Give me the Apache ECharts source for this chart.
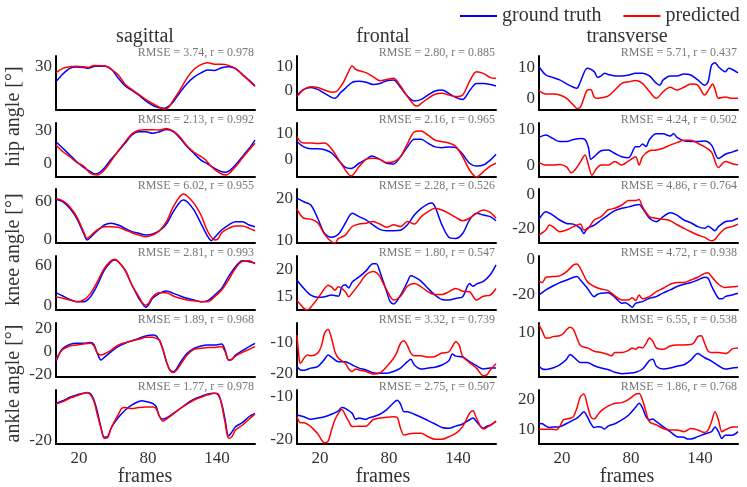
<!DOCTYPE html>
<html>
<head>
<meta charset="utf-8">
<script src="https://cdn.jsdelivr.net/npm/echarts@6/dist/echarts.min.js"></script>
<style>
  html, body { margin: 0; padding: 0; background: #fff; }
  #chart { width: 747px; height: 487px; }
</style>
</head>
<body>
<div id="chart"></div>
<script>
// ---- data (frame, angle in degrees) ----
const planes = ['sagittal', 'frontal', 'transverse']
const joints = ['hip angle [°]', 'knee angle [°]', 'ankle angle [°]']
const frameTicks = [20, 80, 140]
const frameRange = [0, 173]

const rmse = [
  [3.74, 2.80, 5.71],
  [2.13, 2.16, 4.24],
  [6.02, 2.28, 4.86],
  [2.81, 1.80, 4.72],
  [1.89, 3.32, 6.55],
  [1.77, 2.75, 1.86]
]
const corr = [
  [0.978, 0.885, 0.437],
  [0.992, 0.965, 0.502],
  [0.955, 0.526, 0.764],
  [0.993, 0.547, 0.938],
  [0.968, 0.739, 0.538],
  [0.978, 0.507, 0.768]
]
const yTicks = [
  [[30], [0, 10], [0, 10]],
  [[0, 30], [0, 10], [0, 10]],
  [[0, 60], [10, 20], [-20, 0]],
  [[0, 60], [15, 20], [-20, 0]],
  [[-20, 0, 20], [-20, -10], [10]],
  [[-20], [-20, -10], [10, 20]]
]
const yRanges = [
  [[2, 36.5], [-8.5, 14.5], [-3.8, 13.8]],
  [[-12.7, 36.4], [-6.8, 14], [-3.4, 12]],
  [[-4.7, 80], [9.3, 22.4], [-28.6, 3.1]],
  [[-6, 75], [12.6, 22.4], [-29.2, 2.3]],
  [[-21.7, 24.6], [-21.2, -3.6], [0.5, 12]],
  [[-21.5, -0.5], [-21.1, -8.4], [5, 23.4]]
]

// hip, trial 1
const hipSag1Truth = [[0,20.1],[6,25],[12,28.6],[18,29.5],[24,29.2],[28,28.6],[34,30],[43,30],[48,28.2],[54,22.5],[60,17.5],[66,14.5],[72,11.5],[78,7.8],[84,5],[90,3.4],[94,3.1],[98,4.5],[102,7.3],[108,13.5],[114,19],[120,23],[126,25.7],[132,27.5],[138,27.3],[144,29],[150,29.7],[156,28.5],[162,24.8],[168,21],[173,17.5]]
const hipSag1Pred = [[0,25.8],[6,28.6],[12,29.7],[18,30],[24,29.6],[28,29.2],[33,30.5],[42,30.2],[48,28],[54,24.5],[60,18.5],[66,15],[72,12],[78,8.8],[84,6],[90,3.8],[94,2.5],[98,3.7],[102,8.3],[108,15],[114,22.5],[120,28],[126,31],[132,32.2],[138,31.2],[144,31.2],[150,30.5],[156,28.5],[162,24.6],[168,20.5],[173,17]]
const hipFro1Truth = [[0,-2.1],[6,0.3],[12,1.1],[18,0.3],[24,-1.4],[30,-3.1],[33,-3.5],[38,-1],[42,0.7],[48,3.3],[54,3.7],[60,3.3],[66,2.4],[72,2.8],[78,4],[84,4.3],[90,1.1],[96,-2.6],[102,-4.7],[108,-4],[114,-2.1],[120,-0.4],[126,0],[132,-1.4],[138,-3.1],[144,-4],[150,-0.3],[156,2.8],[162,2.8],[168,2.4],[173,1.7]]
const hipFro1Pred = [[0,-2.8],[6,0.3],[12,1.4],[18,1.1],[24,0],[30,-0.9],[34,-0.7],[40,3],[44,7],[48,10.2],[51,8.8],[54,8.2],[60,7.4],[66,5.7],[72,4],[78,4.5],[84,5],[90,1.7],[96,-2.8],[102,-6.4],[105,-6.8],[108,-5.7],[114,-3.5],[120,-1.8],[126,-1.4],[132,-2.1],[138,-2.8],[144,-2.1],[150,3.7],[156,7.8],[162,7.1],[168,5.3],[173,5]]
const hipTra1Truth = [[0,10.3],[6,7.6],[12,6.8],[18,6],[24,4.7],[30,3.6],[33,3.3],[36,5.4],[42,9.8],[48,8.7],[51,6.8],[54,7.3],[57,8.2],[60,7.8],[66,7.3],[72,7.3],[78,7.6],[84,8.2],[90,8.2],[96,7.3],[102,4.9],[105,4.3],[108,6],[114,7.3],[120,7.3],[126,7.9],[132,7.6],[138,6],[144,4.3],[147,5.4],[150,10.8],[153,11.6],[156,10.3],[162,8.7],[165,9.8],[168,9.4],[173,8.3]]
const hipTra1Pred = [[0,2.5],[6,1.4],[12,1.4],[18,1.1],[24,0],[30,-2.2],[33,-3.3],[36,-2.9],[42,2.7],[45,2.9],[48,0.4],[51,0],[54,0.2],[60,0.7],[66,2.7],[72,4.9],[78,5.4],[84,5.8],[90,4.9],[96,2.2],[102,0],[108,2.2],[114,3.6],[120,2.7],[126,3.6],[132,4.7],[138,4.3],[144,1.1],[147,2.5],[151,4.7],[153,3],[156,0],[162,0.4],[168,0],[173,0]]

// hip, trial 2
const hipSag2Truth = [[0,19.4],[6,13.4],[12,7.3],[18,1.2],[24,-3.9],[30,-7.9],[34,-10],[38,-8.5],[42,-4.5],[48,3.5],[54,10.5],[60,17.9],[66,25.5],[72,28.5],[78,28.5],[84,27],[90,28.5],[96,30.6],[102,28.5],[108,22.4],[114,14.8],[120,8.8],[126,2.7],[132,-0.9],[138,-4.8],[144,-7.9],[148,-8.3],[152,-6],[156,-1.8],[162,5.7],[168,13.4],[173,20.9]]
const hipSag2Pred = [[0,16.4],[6,10.3],[12,5.7],[18,0.6],[24,-2.7],[30,-9.4],[36,-10.9],[42,-6.4],[48,2],[54,11],[60,19],[66,26.5],[72,29.8],[78,30.3],[84,30.3],[90,30],[96,31.5],[102,29],[108,23.5],[114,15.5],[120,9.8],[126,6],[130,3],[134,-2],[138,-6],[144,-10],[148,-10.8],[152,-8],[156,-3.5],[162,4.5],[168,12],[173,18]]
const hipFro2Truth = [[0,6.8],[6,4.8],[12,4.1],[18,4.1],[24,3.7],[30,2.5],[36,-0.3],[42,-3.1],[47,-3.5],[54,-1.5],[60,0],[65,1.3],[72,0],[78,-1.5],[84,-1.8],[90,1],[96,4.8],[102,7.7],[108,7.7],[114,6.2],[120,4.8],[126,4.5],[132,4.8],[138,4.5],[144,2],[150,-1.5],[156,-2.6],[162,-2.2],[168,-0.3],[173,2]]
const hipFro2Pred = [[0,8.7],[3,6.8],[6,6.3],[12,6.3],[18,6.1],[24,6.3],[30,4.1],[36,0],[42,-4.1],[47,-6.4],[54,-2.8],[60,0],[66,0.4],[72,0],[78,-1.2],[84,-0.9],[90,1],[96,6],[102,10.6],[108,10.9],[114,9.3],[120,7.4],[126,6.8],[132,6.3],[138,5],[144,1],[150,-4.1],[156,-6.8],[162,-4.8],[168,-2.6],[173,-1.5]]
const hipTra2Truth = [[0,7.9],[6,8.6],[12,7.6],[18,6.7],[24,6.7],[30,7.3],[36,7.6],[40,7.3],[43,5],[45,1.6],[48,2.4],[54,4.1],[60,4.3],[66,3.3],[72,2.4],[78,2.1],[84,5.2],[87,5.2],[90,6],[93,5.3],[96,7.3],[102,8.9],[108,8.9],[114,8.3],[117,8.9],[120,7.9],[126,6.9],[132,6.7],[138,6.7],[144,6.9],[150,5.7],[156,1.9],[162,3.1],[168,3.7],[173,4.3]]
const hipTra2Pred = [[0,0.7],[6,0],[12,0],[18,0.2],[24,-0.5],[28,-2.2],[31,-1.5],[36,0.9],[40,2.9],[43,0],[46,-2.9],[50,-1],[54,0],[60,0],[66,1],[72,0],[78,1.2],[84,2.4],[87,0],[90,2.4],[96,4.1],[102,4.3],[108,4.8],[114,5.7],[120,6.4],[126,7.1],[132,7.1],[138,6.2],[144,5.2],[150,3.7],[156,-0.7],[162,1],[168,0.4],[173,0]]

// knee, trial 1
const kneeSag1Truth = [[0,63.8],[6,60],[12,49.7],[18,34],[24,10.5],[27,0],[30,4.2],[36,14.6],[42,23.5],[48,26.1],[54,23.5],[60,18.3],[66,13.1],[72,10.5],[78,7.8],[84,9.4],[90,14.6],[96,25],[102,44.4],[108,60],[111,62.7],[114,60],[120,47],[126,26.1],[132,5.2],[135,-1],[138,4.2],[144,15.7],[150,23.5],[156,28.7],[162,28.7],[168,23.5],[173,20.9]]
const kneeSag1Pred = [[0,65.3],[6,61.5],[12,52.2],[18,36.5],[24,13.1],[27,2.6],[30,6.3],[33,11.5],[36,16],[42,20.9],[48,20.9],[54,19.9],[60,15.7],[66,11.5],[72,7.8],[78,5.2],[84,7.8],[90,14.6],[96,28.7],[102,52.2],[108,69],[111,72.1],[114,69],[120,57.5],[126,39.2],[132,13.1],[138,0],[141,2],[144,11.5],[150,18.3],[156,22],[162,22],[168,18.3],[173,14.6]]
const kneeFro1Truth = [[0,20.2],[6,19.3],[12,18.5],[18,15.3],[24,11.6],[30,10.7],[36,11.4],[42,14.1],[48,16.5],[54,15.7],[60,14.9],[66,13.7],[72,12.6],[78,12.3],[84,12.3],[90,12.4],[96,13.7],[102,16.1],[108,17.7],[114,18.8],[117,19],[120,18.1],[126,13.7],[132,10.7],[138,10.4],[144,11.6],[150,14.9],[156,16.5],[162,16.1],[168,15.7],[173,14.7]]
const kneeFro1Pred = [[0,17.5],[3,16.1],[6,15.3],[12,15.1],[18,14.2],[24,11.4],[30,9.6],[33,9.3],[36,10.4],[42,11.2],[48,13.3],[54,13.9],[60,14.1],[66,14.5],[72,13.9],[78,13.1],[84,13.7],[90,13.3],[96,14.5],[102,13.9],[108,15.7],[114,16.9],[120,17.7],[126,17.3],[132,16.5],[138,15.5],[144,14.7],[150,15.3],[156,16.5],[162,17.3],[168,16.7],[173,15.3]]
const kneeTra1Truth = [[0,-14.7],[6,-10.2],[12,-12.2],[18,-15.1],[24,-17.1],[30,-17.5],[36,-20],[39,-23],[42,-20],[48,-18.1],[54,-15.1],[60,-12.2],[66,-9.6],[72,-8.2],[78,-7.4],[84,-6.3],[87,-6],[90,-8.2],[96,-14.1],[102,-16.1],[108,-13.1],[114,-10.8],[120,-12.2],[126,-15.1],[132,-16.7],[138,-19],[144,-20],[147,-18.8],[150,-20],[153,-21.4],[156,-19],[162,-16.1],[168,-15.5],[173,-14.1]]
const kneeTra1Pred = [[0,-23.9],[6,-21],[9,-18.1],[12,-19],[18,-22],[24,-21],[30,-19],[36,-17.5],[39,-21],[42,-20.6],[48,-15.1],[54,-13.1],[60,-9.2],[66,-8.2],[72,-6.3],[78,-3.7],[84,-3.7],[87,-3],[90,-7.4],[96,-13.1],[102,-14.1],[108,-14.7],[114,-15.5],[120,-17.9],[126,-20],[132,-22],[138,-23.9],[144,-25.3],[150,-27.3],[153,-26.5],[156,-23.9],[162,-20],[168,-19],[173,-17.5]]

// knee, trial 2
const kneeSag2Truth = [[0,20],[6,15],[12,10],[18,6.5],[24,6.5],[30,14],[36,31.5],[42,54],[48,66.5],[51,69],[54,66.5],[60,54],[66,31.5],[72,11.5],[75,4],[78,-2],[81,3],[84,11.5],[90,19],[96,22.5],[102,19],[108,15],[114,11.5],[120,9],[126,6.5],[132,8],[138,16.5],[144,26.5],[150,44],[156,59],[162,68],[168,66.5],[173,64]]
const kneeSag2Pred = [[0,14],[6,11.5],[12,9],[18,6.5],[24,9],[30,19],[36,36.5],[42,56.5],[48,68],[51,70],[54,67],[60,54],[66,31.5],[72,14],[75,5],[78,1],[81,5],[84,14],[90,20],[96,20],[102,15],[108,11.5],[114,9],[120,8],[126,6.5],[132,6.5],[138,14],[144,24],[150,39],[156,56.5],[162,67],[168,68],[173,63]]
const kneeFro2Truth = [[0,18],[6,16.5],[12,15.3],[18,14.9],[24,15],[30,15.3],[36,15.1],[39,16.8],[42,17.2],[45,16.6],[48,17.7],[54,18.6],[60,19.7],[66,21],[69,21],[72,19.6],[78,15.9],[81,14.1],[84,13.7],[90,15.3],[96,17.7],[99,18.8],[102,18.6],[108,17.8],[114,16.5],[120,15.3],[126,14.5],[132,14.4],[138,14.7],[144,15],[150,17.4],[153,16.9],[156,17.3],[162,17.8],[168,19],[173,20.8]]
const kneeFro2Pred = [[0,14.3],[3,13.6],[6,12.9],[9,12.6],[12,13.1],[18,14.7],[24,16.5],[27,17.1],[30,16.8],[33,16.2],[36,16.8],[42,15.9],[45,15],[48,15.7],[54,17.3],[60,19],[66,19.6],[69,19.4],[72,18.7],[78,16.2],[84,14.4],[90,15.1],[96,16.9],[102,17.4],[108,16.8],[114,15.9],[120,15.4],[126,15.4],[132,15.9],[138,16.5],[144,16],[150,15.9],[156,14.4],[162,15.1],[168,15.3],[173,16.5]]
const kneeTra2Truth = [[0,-20.4],[6,-17.5],[12,-15.2],[18,-13.2],[24,-11.7],[30,-10.1],[33,-9.7],[36,-11.7],[42,-16.5],[48,-21.4],[51,-20],[54,-19.4],[60,-19.2],[66,-21.8],[72,-25.3],[75,-24.9],[78,-26],[81,-27.6],[84,-25.3],[90,-24.3],[96,-22.3],[102,-21.4],[108,-19.2],[114,-17.5],[120,-15.5],[126,-14.2],[132,-13.2],[138,-11.7],[144,-10.1],[147,-10.7],[150,-15.2],[156,-22.3],[159,-22.7],[162,-21.4],[168,-20.4],[173,-19.4]]
const kneeTra2Pred = [[0,-12.6],[3,-13.2],[6,-10.1],[12,-9.7],[18,-9.3],[24,-6.8],[30,-2.9],[33,-2.3],[36,-4.9],[42,-12.6],[48,-15.5],[54,-17],[60,-17.9],[66,-21],[72,-23.3],[78,-23.3],[81,-22],[84,-23.7],[87,-20.4],[90,-22.7],[96,-21.4],[102,-18.5],[108,-16.5],[114,-14.2],[120,-13.2],[126,-13.2],[132,-11.7],[138,-10.1],[144,-7.8],[147,-7.4],[150,-9.7],[156,-14.2],[162,-16.1],[168,-15.7],[173,-15.3]]

// ankle, trial 1
const ankleSag1Truth = [[0,-8.6],[3,-1.4],[6,2.9],[12,6.3],[18,7.2],[24,7.2],[30,7.8],[33,6],[36,-1.4],[39,-7.1],[42,-4.9],[48,0],[54,4.3],[60,7.2],[66,9.4],[72,11.4],[78,13.5],[84,14.3],[87,13.5],[90,9.4],[93,1.4],[96,-8.6],[99,-15.7],[102,-17.1],[105,-14.3],[108,-9.4],[114,-1.4],[120,2.9],[126,4.9],[132,5.7],[138,5.7],[144,6.6],[147,1.4],[150,-7.1],[153,-6.5],[156,-2.9],[162,0.9],[168,4.3],[173,7.2]]
const ankleSag1Pred = [[0,-7.1],[3,-1.4],[6,2],[12,4.9],[18,5.7],[24,6.6],[30,7.2],[33,4.9],[36,-1.4],[39,-2.9],[42,-2],[48,1.4],[54,5.7],[60,7.8],[66,9.4],[72,10.6],[78,12.3],[84,12.3],[87,11.4],[90,10],[93,2],[96,-8.6],[99,-15.7],[102,-17.9],[105,-15.7],[108,-11.4],[114,-2.9],[120,2],[126,2.9],[132,3.7],[138,3.7],[144,4.3],[147,0],[150,-7.1],[153,-6.5],[156,-3.7],[162,-0.6],[168,2],[173,4.3]]
const ankleFro1Truth = [[0,-17.8],[3,-18.9],[6,-19],[12,-18.3],[18,-17.8],[24,-15.4],[27,-14],[30,-14.7],[36,-16.2],[42,-16.2],[48,-17.3],[54,-18.3],[60,-18.9],[66,-19.8],[72,-20],[78,-20],[84,-19.4],[90,-18.3],[96,-16.2],[99,-15.4],[102,-17.3],[108,-18.6],[114,-18.3],[120,-18],[126,-17.3],[132,-15.9],[135,-13.7],[138,-14.4],[144,-14.7],[150,-16.2],[156,-17.5],[162,-18.6],[168,-18.3],[173,-18.3]]
const ankleFro1Pred = [[0,-7.5],[2,-15.7],[3,-16.7],[6,-15.1],[9,-14],[12,-14.3],[18,-13.4],[21,-11.3],[24,-6.9],[27,-5.6],[30,-8.6],[33,-13],[36,-15.1],[42,-16.7],[45,-18.6],[48,-19.4],[51,-18.6],[54,-18.9],[60,-19.4],[66,-20.2],[72,-19.9],[78,-17.8],[84,-15.1],[87,-13],[90,-10.2],[93,-9.4],[96,-11],[99,-13.4],[102,-14.3],[108,-14.3],[114,-14.7],[120,-14.5],[126,-13.4],[132,-13],[135,-11.3],[138,-9.7],[141,-10.8],[144,-14.5],[150,-16.5],[156,-18.3],[162,-20.8],[165,-20.5],[168,-18.9],[173,-16.9]]
const ankleTra1Truth = [[0,2.8],[3,2.2],[6,2.1],[12,2.4],[18,3.1],[24,4.3],[27,5.3],[30,4.8],[36,3.6],[42,3.6],[48,2.9],[54,2.4],[60,2.1],[66,1.5],[72,1.2],[78,1.3],[84,1.5],[90,2.2],[96,4],[99,4.3],[102,2.8],[108,2.2],[114,2.4],[120,2.8],[126,3.1],[132,4.1],[138,5.5],[141,5.1],[144,4.6],[150,3.9],[156,2.9],[162,2.2],[168,2.4],[173,2.5]]
const ankleTra1Pred = [[0,11.6],[3,10.2],[6,8.8],[9,8.8],[12,9.1],[18,9.3],[21,9.7],[24,10.6],[27,11.1],[30,10.6],[33,8.8],[36,7.2],[42,6.7],[48,6],[54,5.7],[60,5.3],[63,5],[66,5.7],[72,5.7],[78,6.2],[81,6.7],[84,6.4],[87,6.9],[90,6.7],[93,7.6],[96,8.8],[99,8.1],[102,6.7],[108,6.4],[114,7.1],[120,7.3],[126,7.3],[132,7.4],[135,7.9],[138,9.1],[141,9.3],[144,7.7],[147,6],[150,5.7],[156,5.7],[162,5.5],[165,5.8],[168,6.5],[173,6.7]]

// ankle, trial 2
const ankleSag2Truth = [[0,-5.7],[6,-4.7],[12,-3.3],[18,-2.4],[24,-1.8],[27,-1.5],[30,-2],[33,-4.4],[36,-9],[39,-14.8],[42,-18.9],[45,-18.6],[48,-15.2],[54,-11.3],[60,-8.4],[66,-6.3],[72,-5],[75,-4.7],[78,-5],[81,-5.3],[84,-5.7],[87,-6.9],[90,-10.8],[93,-11.8],[96,-11.4],[102,-9.6],[108,-7.7],[114,-5.7],[120,-4.1],[126,-3],[132,-2],[138,-1.8],[141,-2.4],[144,-5.7],[147,-12],[150,-18.4],[153,-16.8],[156,-14.8],[162,-13.2],[168,-10.8],[173,-9.6]]
const ankleSag2Pred = [[0,-6],[6,-5],[12,-3.7],[18,-2.8],[24,-1.8],[27,-1.6],[30,-2.4],[33,-5],[36,-10.2],[39,-15.2],[42,-19.3],[45,-19],[48,-15.2],[54,-10.2],[57,-7.7],[60,-7.3],[66,-7.7],[72,-7.3],[78,-7.1],[84,-7.1],[87,-7.7],[90,-10.8],[93,-12.6],[96,-11.8],[102,-9.8],[108,-7.7],[114,-6],[120,-4.4],[126,-3.3],[132,-2.4],[138,-1.8],[141,-2],[144,-6.3],[147,-13.2],[150,-19.3],[153,-18.6],[156,-16.1],[162,-14.2],[168,-11.8],[173,-9.8]]
const ankleFro2Truth = [[0,-14.3],[6,-14.7],[12,-15.3],[18,-15],[24,-14.7],[30,-14.1],[36,-13.3],[39,-12.5],[42,-12.7],[48,-13.9],[51,-15.3],[54,-15],[60,-15.3],[63,-14.9],[66,-14.7],[72,-14.1],[78,-13],[84,-11.4],[87,-10.8],[90,-11.7],[93,-13.5],[96,-13.5],[102,-14.1],[108,-14.8],[114,-15.6],[120,-16.4],[126,-17.2],[132,-17.4],[138,-16.9],[144,-16.4],[150,-15.4],[153,-15],[156,-15.8],[162,-17.4],[165,-16.9],[168,-16.7],[173,-15.8]]
const ankleFro2Pred = [[0,-14.7],[3,-16.1],[6,-16.1],[12,-17],[18,-18.7],[24,-20.8],[27,-20.5],[30,-17.8],[33,-15.4],[36,-13.9],[39,-13],[42,-14.3],[45,-15.8],[48,-17],[54,-16.9],[60,-16.9],[66,-15.4],[72,-15],[78,-14.8],[84,-14.7],[87,-14.8],[90,-17.4],[93,-19],[96,-18.8],[102,-18.6],[108,-18.6],[114,-19.4],[120,-20],[126,-20],[132,-19.4],[138,-18.6],[144,-17],[150,-13.9],[153,-13.3],[156,-15],[162,-17.6],[168,-16.7],[173,-15.7]]
const ankleTra2Truth = [[0,12],[3,11.9],[6,11.1],[9,10.6],[12,10.8],[18,10.9],[24,12],[30,13.2],[33,13.8],[36,14.9],[39,16],[42,14.3],[45,12],[48,10.6],[51,10.9],[54,10.8],[57,10.1],[60,11.1],[66,11.9],[72,13.2],[78,14.9],[84,17.5],[87,18.9],[90,17.3],[93,14.3],[96,13.2],[99,13.5],[102,12.6],[108,10.9],[114,9.2],[120,7.5],[126,7.3],[129,6.7],[132,6.7],[138,7.5],[144,8.4],[150,9.2],[153,10.8],[156,9.2],[159,6.9],[162,8],[168,8],[173,9.2]]
const ankleTra2Pred = [[0,10],[6,10],[12,10],[15,9.8],[18,10.9],[21,13.2],[24,13.5],[27,13.8],[30,14.3],[33,17.3],[36,21.1],[39,22],[42,18.3],[45,14.3],[48,13.5],[51,14.9],[54,16.3],[60,17.9],[66,18.9],[72,19.1],[78,20.2],[84,22],[87,22.2],[90,20],[93,16],[96,12.6],[102,11.5],[108,10.3],[114,9.8],[120,9.8],[126,9.2],[132,10.3],[138,9.8],[144,8.9],[147,9.8],[150,12.6],[153,16],[156,13.2],[159,9.2],[162,9.8],[168,10.8],[173,10.8]]

// rows top to bottom, columns sagittal / frontal / transverse
const panels = [
  [[hipSag1Truth, hipSag1Pred], [hipFro1Truth, hipFro1Pred], [hipTra1Truth, hipTra1Pred]],
  [[hipSag2Truth, hipSag2Pred], [hipFro2Truth, hipFro2Pred], [hipTra2Truth, hipTra2Pred]],
  [[kneeSag1Truth, kneeSag1Pred], [kneeFro1Truth, kneeFro1Pred], [kneeTra1Truth, kneeTra1Pred]],
  [[kneeSag2Truth, kneeSag2Pred], [kneeFro2Truth, kneeFro2Pred], [kneeTra2Truth, kneeTra2Pred]],
  [[ankleSag1Truth, ankleSag1Pred], [ankleFro1Truth, ankleFro1Pred], [ankleTra1Truth, ankleTra1Pred]],
  [[ankleSag2Truth, ankleSag2Pred], [ankleFro2Truth, ankleFro2Pred], [ankleTra2Truth, ankleTra2Pred]]
]

// ---- layout ----
const FONT = 'Liberation Serif'
const colLeft = [56, 297, 539]
const colTitleX = [145, 383, 627]
const rowTop = [56, 123, 189, 256, 323, 390]
const plotW = 199
const plotH = 54

const chart = echarts.init(document.getElementById('chart'))

const grid = []
const xAxis = []
const yAxis = []
const series = []
const graphic = []

panels.forEach((row, r) => {
  row.forEach((pair, c) => {
    const idx = grid.length
    grid.push({ left: colLeft[c], top: rowTop[r], width: plotW, height: plotH })
    xAxis.push({
      type: 'value',
      gridIndex: idx,
      min: frameRange[0],
      max: frameRange[1],
      axisLine: { onZero: false, lineStyle: { color: '#000', width: 2 } },
      axisTick: { show: false },
      splitLine: { show: false },
      axisLabel: {
        show: r === panels.length - 1,
        customValues: frameTicks,
        margin: 6,
        fontFamily: FONT,
        fontSize: 17,
        color: '#333'
      }
    })
    yAxis.push({
      type: 'value',
      gridIndex: idx,
      min: yRanges[r][c][0],
      max: yRanges[r][c][1],
      axisLine: { show: true, onZero: false, lineStyle: { color: '#000', width: 2 } },
      axisTick: { show: false },
      splitLine: { show: false },
      axisLabel: {
        customValues: yTicks[r][c],
        margin: 4,
        fontFamily: FONT,
        fontSize: 17,
        color: '#333'
      }
    })
    series.push({
      type: 'line',
      name: 'ground truth',
      xAxisIndex: idx,
      yAxisIndex: idx,
      data: pair[0],
      smooth: 0.3,
      showSymbol: false,
      lineStyle: { color: '#0000ff', width: 1.5 },
      itemStyle: { color: '#0000ff' }
    })
    series.push({
      type: 'line',
      name: 'predicted',
      xAxisIndex: idx,
      yAxisIndex: idx,
      data: pair[1],
      smooth: 0.3,
      showSymbol: false,
      lineStyle: { color: '#ff0000', width: 1.5 },
      itemStyle: { color: '#ff0000' }
    })
    graphic.push({
      type: 'text',
      x: colLeft[c] + plotW - 1,
      y: rowTop[r] - 3,
      style: {
        text: 'RMSE = ' + rmse[r][c].toFixed(2) + ', r = ' + corr[r][c].toFixed(3),
        align: 'right',
        verticalAlign: 'middle',
        font: '12px "' + FONT + '"',
        fill: '#777'
      }
    })
  })
})

planes.forEach((p, c) => {
  graphic.push({
    type: 'text', x: colTitleX[c], y: 37,
    style: { text: p, align: 'center', verticalAlign: 'middle', font: '20px "' + FONT + '"', fill: '#333' }
  })
  graphic.push({
    type: 'text', x: colTitleX[c], y: 477,
    style: { text: 'frames', align: 'center', verticalAlign: 'middle', font: '20px "' + FONT + '"', fill: '#333' }
  })
})

joints.forEach((j, k) => {
  const yc = (rowTop[2 * k] + rowTop[2 * k + 1] + plotH) / 2
  graphic.push({
    type: 'text', x: 14, y: yc, rotation: Math.PI / 2,
    style: { text: j, align: 'center', verticalAlign: 'middle', font: '20px "' + FONT + '"', fill: '#333' }
  })
})

chart.setOption({
  animation: false,
  backgroundColor: '#fff',
  legend: {
    data: ['ground truth', 'predicted'],
    left: 455,
    top: 1,
    icon: 'rect',
    itemWidth: 37,
    itemHeight: 2,
    itemGap: 22,
    textStyle: { fontFamily: FONT, fontSize: 20, color: '#333' }
  },
  grid,
  xAxis,
  yAxis,
  series,
  graphic
})
</script>
</body>
</html>
